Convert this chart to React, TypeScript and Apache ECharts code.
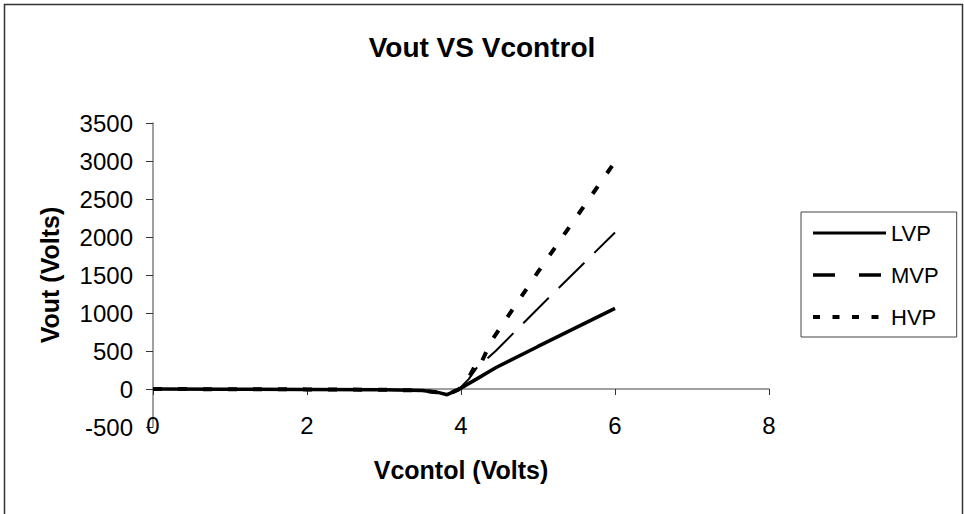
import React, { useEffect, useRef } from "react";
import * as echarts from "echarts";

const chartTitle = "Vout VS Vcontrol";
const xAxisName = "Vcontol (Volts)";
const yAxisName = "Vout (Volts)";
const seriesNames = ["LVP", "MVP", "HVP"];

const lvpX = [0, 1, 2, 3, 3.5, 3.7, 3.82, 3.97, 4.2, 4.45, 5, 6];
const lvpY = [0, -3, -5, -10, -20, -45, -75, -5, 130, 280, 560, 1060];
const mvpX = [0, 1, 2, 3, 3.5, 3.7, 3.82, 3.97, 4.1, 4.22, 4.26, 4.45, 5, 6];
const mvpY = [0, -3, -5, -10, -20, -45, -75, -5, 130, 300, 330, 500, 1060, 2060];
const hvpX = [0, 1, 2, 3, 3.5, 3.7, 3.82, 3.97, 4.1, 4.2, 4.24, 4.4, 5, 6];
const hvpY = [0, -3, -5, -10, -20, -45, -75, -5, 150, 340, 300, 640, 1540, 2990];

const xMin = 0;
const xMax = 8;
const xStep = 2;
const yMin = -500;
const yMax = 3500;
const yStep = 500;

const zip = (xs: number[], ys: number[]) => xs.map((x, i) => [x, ys[i]]);

const FONT = 'Arial, "Liberation Sans", sans-serif';
const AXIS_COLOR = "#808080";

export default function App() {
  const ref = useRef<HTMLDivElement>(null);
  useEffect(() => {
    if (!ref.current) return;
    const chart = echarts.init(ref.current, undefined, { renderer: "svg" });
    chart.setOption({
      animation: false,
      backgroundColor: "#fff",
      textStyle: { fontFamily: FONT, color: "#000" },
      title: {
        text: chartTitle,
        left: "center",
        top: 28,
        textStyle: { fontFamily: FONT, fontSize: 28, fontWeight: "bold", color: "#000" },
      },
      graphic: [
        {
          type: "rect",
          shape: { x: 4.5, y: 4.5, width: 958, height: 530 },
          style: { fill: "none", stroke: "#333", lineWidth: 1.5 },
          silent: true,
        },
      ],
      legend: {
        orient: "vertical",
        left: 801,
        top: 212,
        padding: [10, 18, 9, 10],
        itemGap: 20,
        itemWidth: 73,
        itemHeight: 14,
        borderColor: "#444",
        borderWidth: 1,
        itemStyle: { opacity: 0, borderWidth: 0 },
        textStyle: { fontFamily: FONT, fontSize: 22, color: "#000", padding: [0, 0, 0, 0] },
        data: [
          { name: seriesNames[0], lineStyle: { width: 3, type: "solid", color: "#000" } },
          { name: seriesNames[1], lineStyle: { width: 3.5, type: [22, 24], color: "#000" } },
          { name: seriesNames[2], lineStyle: { width: 4, type: [7, 12.5], color: "#000" } },
        ],
      },
      grid: { left: 153, right: 195, top: 123, bottom: 87, containLabel: false },
      xAxis: [
        {
          type: "value",
          min: xMin,
          max: xMax,
          interval: xStep,
          axisLine: { onZero: true, lineStyle: { color: AXIS_COLOR, width: 1.5 } },
          axisTick: { show: true, inside: false, length: 6, lineStyle: { color: "#333", width: 1 } },
          axisLabel: { show: false },
          splitLine: { show: false },
        },
        {
          type: "value",
          position: "bottom",
          min: xMin,
          max: xMax,
          interval: xStep,
          axisLine: { show: false, onZero: false },
          axisTick: { show: false },
          splitLine: { show: false },
          axisLabel: {
            margin: -14,
            fontFamily: FONT,
            fontSize: 24,
            color: "#000",
            formatter: (v: number) => String(v),
          },
          name: xAxisName,
          nameLocation: "middle",
          nameGap: 30,
          nameTextStyle: { fontFamily: FONT, fontSize: 25, fontWeight: "bold", color: "#000" },
        },
      ],
      yAxis: {
        type: "value",
        min: yMin,
        max: yMax,
        interval: yStep,
        axisLine: { show: true, lineStyle: { color: AXIS_COLOR, width: 1.5 } },
        axisTick: { show: true, inside: false, length: 7, lineStyle: { color: "#333", width: 1 } },
        axisLabel: {
          margin: 20,
          fontFamily: FONT,
          fontSize: 24,
          color: "#000",
          formatter: (v: number) => String(v),
        },
        splitLine: { show: false },
        name: yAxisName,
        nameLocation: "middle",
        nameGap: 91,
        nameTextStyle: { fontFamily: FONT, fontSize: 25, fontWeight: "bold", color: "#000" },
      },
      series: [
        {
          name: seriesNames[2],
          type: "line",
          xAxisIndex: 0,
          symbol: "none",
          data: zip(hvpX, hvpY),
          lineStyle: { color: "#000", width: 4, type: [9, 16] },
          itemStyle: { color: "#000" },
        },
        {
          name: seriesNames[1],
          type: "line",
          xAxisIndex: 0,
          symbol: "none",
          data: zip(mvpX, mvpY),
          lineStyle: { color: "#000", width: 2, type: [36, 14] },
          itemStyle: { color: "#000" },
        },
        {
          name: seriesNames[0],
          type: "line",
          xAxisIndex: 0,
          symbol: "none",
          data: zip(lvpX, lvpY),
          lineStyle: { color: "#000", width: 3.5, type: "solid" },
          itemStyle: { color: "#000" },
        },
      ],
    });
    return () => chart.dispose();
  }, []);
  return (
    <div
      ref={ref}
      style={{ position: "fixed", left: 0, top: 0, width: 964, height: 514, background: "#fff" }}
    />
  );
}
